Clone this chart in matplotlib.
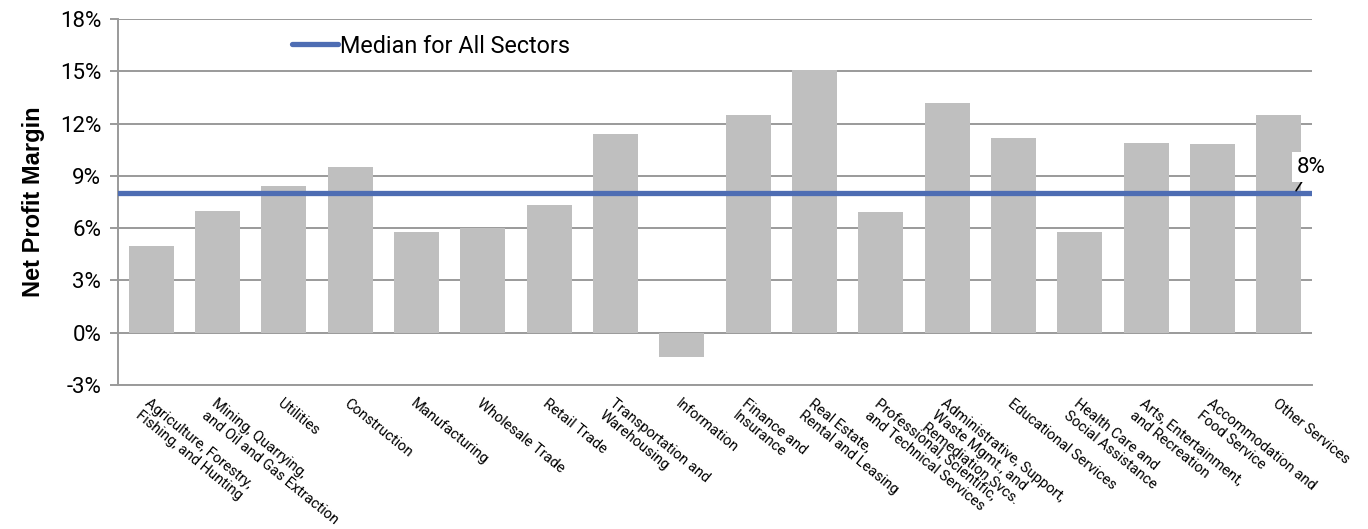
import matplotlib.pyplot as plt
from matplotlib.ticker import FuncFormatter

# Net profit margin by sector (%)
sectors = [
    "Agriculture, Forestry,\nFishing, and Hunting",
    "Mining, Quarrying,\nand Oil and Gas Extraction",
    "Utilities",
    "Construction",
    "Manufacturing",
    "Wholesale Trade",
    "Retail Trade",
    "Transportation and\nWarehousing",
    "Information",
    "Finance and\nInsurance",
    "Real Estate,\nRental and Leasing",
    "Professional, Scientific,\nand Technical Services",
    "Administrative, Support,\nWaste Mgmt., and\nRemediation Svcs.",
    "Educational Services",
    "Health Care and\nSocial Assistance",
    "Arts, Entertainment,\nand Recreation",
    "Accommodation and\nFood Service",
    "Other Services",
]
margins = [5.0, 7.0, 8.4, 9.5, 5.8, 6.0, 7.3, 11.4, -1.4, 12.5,
           15.1, 6.9, 13.2, 11.2, 5.8, 10.9, 10.8, 12.5]
median_all = 8.0
yticks = [-3, 0, 3, 6, 9, 12, 15, 18]

fig = plt.figure(figsize=(13.68, 5.29), dpi=100)
ax = fig.add_axes([118 / 1368, 1 - 385 / 529, 1194 / 1368, 366 / 529])

x = range(len(sectors))
ax.bar(x, margins, width=0.68, color="#bfbfbf", zorder=2)
ax.axhline(median_all, color="#4e6db3", lw=3.8, solid_capstyle="round",
           zorder=3, label="Median for All Sectors")

ax.set_xlim(-0.5, len(sectors) - 0.5)
ax.set_ylim(-3, 18)
ax.set_yticks(yticks)
ax.yaxis.set_major_formatter(FuncFormatter(lambda v, p: f"{v:.0f}%"))
ax.grid(axis="y", color="#9a9a9a", lw=1.4, zorder=0)
for s in ["top", "right"]:
    ax.spines[s].set_visible(False)
for s in ["left", "bottom"]:
    ax.spines[s].set_color("#9a9a9a")
    ax.spines[s].set_linewidth(1.4)

ax.tick_params(axis="y", length=6, color="#9a9a9a", width=1.4,
               labelsize=16, pad=6)
ax.tick_params(axis="x", length=0, pad=8)
for lbl in ax.get_yticklabels():
    lbl.set_fontfamily("Roboto")

ax.set_xticks(list(x))
ax.set_xticklabels(sectors, rotation=-39, ha="left", va="top",
                   rotation_mode="anchor", fontsize=10.5, family="Roboto",
                   linespacing=1.15)

ax.set_ylabel("Net Profit Margin", fontsize=17, fontweight="bold",
              family="Liberation Sans", labelpad=11)

ax.legend(loc="center left", bbox_to_anchor=(0.128, 0.926), frameon=False,
          handlelength=2.0, handletextpad=0.05,
          prop={"family": "Roboto", "size": 16.8})

# value callout for the median line
ax.annotate(f"{median_all:.0f}%", xy=(17.26, median_all + 0.15),
            xytext=(11, 17), textcoords="offset points",
            ha="center", va="center", fontsize=16, family="Roboto",
            bbox=dict(boxstyle="square,pad=0.2", fc="white", ec="none"),
            arrowprops=dict(arrowstyle="-", color="black", lw=1.2,
                            shrinkA=0, shrinkB=0),
            zorder=4, annotation_clip=False)

fig.savefig("out.png", dpi=100)
